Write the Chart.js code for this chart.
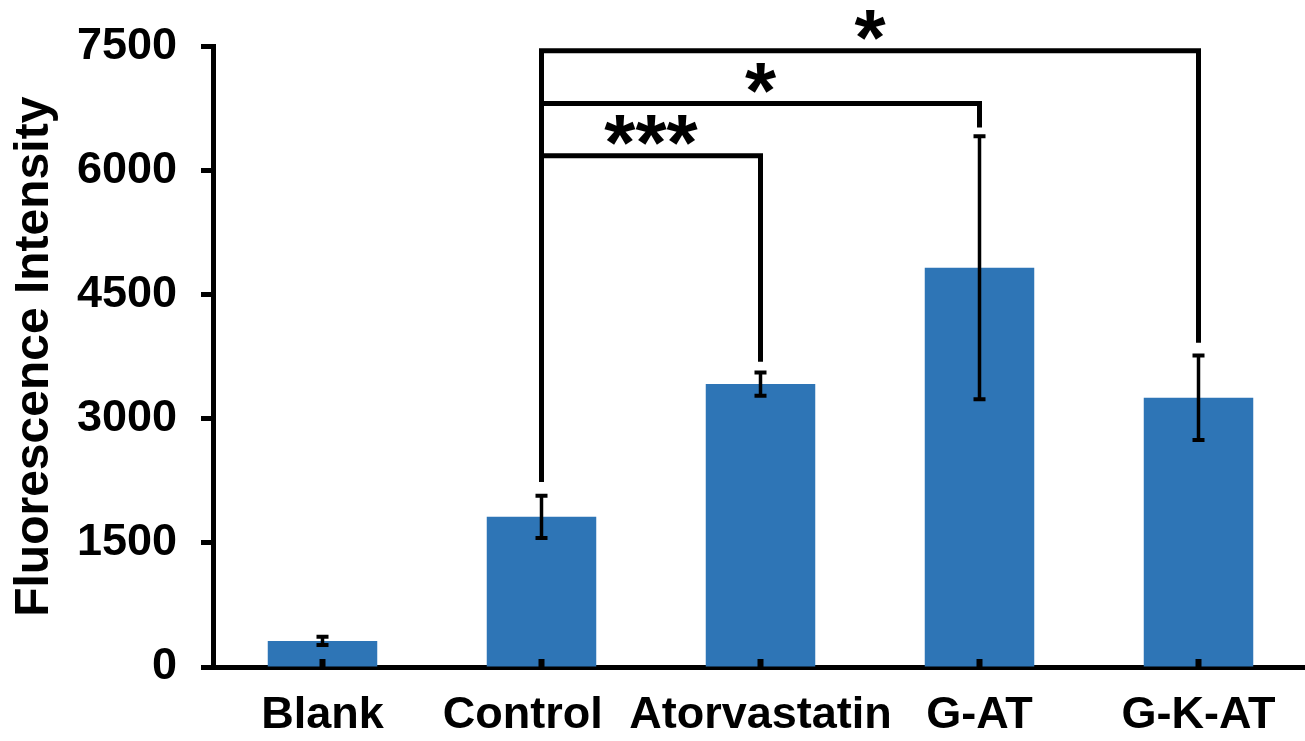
<!DOCTYPE html>
<html>
<head>
<meta charset="utf-8">
<script src="https://cdn.jsdelivr.net/npm/chart.js@4/dist/chart.umd.min.js"></script>
<style>
  body { margin: 0; background: #fff; overflow: hidden; }
  #wrap { width: 1310px; height: 741px; }
</style>
</head>
<body>
<div id="wrap"><canvas id="chart" width="1310" height="741"></canvas></div>
<script>
var categories = ['Blank', 'Control', 'Atorvastatin', 'G-AT', 'G-K-AT'];
var means = [315, 1815, 3420, 4825, 3255];
var errors = [50, 255, 140, 1590, 510];
var yTicks = [0, 1500, 3000, 4500, 6000, 7500];

// significance brackets, all starting from Control
var bracketFrom = 1;
var bracketStart = 2240;
var bracketTo = [2, 3, 4];
var bracketLevel = [6180, 6810, 7450];
var bracketEnd = [3690, 6520, 3920];
var bracketStars = ['***', '*', '*'];

var fontFamily = '"Liberation Sans", Arial, sans-serif';

////Error bars, brackets, stars/////
var extras = {
  id: 'extras',
  afterDraw: function(chart) {
    var ctx = chart.ctx;
    var x = chart.scales.x;
    var y = chart.scales.y;
    ctx.save();
    ctx.strokeStyle = '#000';
    ctx.fillStyle = '#000';

    means.forEach(function(m, i) {
      var cx = x.getPixelForValue(i);
      var top = y.getPixelForValue(m + errors[i]);
      var bot = y.getPixelForValue(m - errors[i]);
      ctx.lineWidth = 3.5;
      ctx.beginPath();
      ctx.moveTo(cx, top);
      ctx.lineTo(cx, bot);
      ctx.stroke();
      ctx.lineWidth = 4;
      ctx.beginPath();
      ctx.moveTo(cx - 6, top); ctx.lineTo(cx + 6, top);
      ctx.moveTo(cx - 6, bot); ctx.lineTo(cx + 6, bot);
      ctx.stroke();
      // little inside tick on the x axis
      ctx.fillRect(cx - 3, y.getPixelForValue(0) - 8, 6, 8);
    });

    var x0 = x.getPixelForValue(bracketFrom);
    ctx.lineWidth = 5;
    ctx.lineJoin = 'miter';
    ctx.font = 'bold 80px ' + fontFamily;
    ctx.textAlign = 'center';
    ctx.textBaseline = 'alphabetic';
    bracketTo.forEach(function(t, i) {
      var x1 = x.getPixelForValue(t);
      var ly = y.getPixelForValue(bracketLevel[i]);
      ctx.beginPath();
      ctx.moveTo(x0, y.getPixelForValue(bracketStart));
      ctx.lineTo(x0, ly);
      ctx.lineTo(x1, ly);
      ctx.lineTo(x1, y.getPixelForValue(bracketEnd[i]));
      ctx.stroke();
      ctx.fillText(bracketStars[i], (x0 + x1) / 2, ly + 14);
    });
    ctx.restore();
  }
};

var ctx = document.getElementById('chart');

var chart = new Chart(ctx, {
  type: 'bar',
  data: {
    labels: categories,
    datasets: [{
      data: means,
      backgroundColor: '#2E75B6',
      borderWidth: 0,
      categoryPercentage: 1,
      barPercentage: 0.5
    }]
  },
  options: {
    responsive: false,
    animation: false,
    devicePixelRatio: 1,
    layout: { padding: { top: 14, right: 2, left: 0, bottom: 0 } },
    plugins: {
      legend: { display: false },
      tooltip: { enabled: false }
    },
    scales: {
      x: {
        z: 1,
        grid: { display: false, drawTicks: false },
        border: { display: true, color: '#000', width: 5 },
        ticks: {
          color: '#000',
          padding: 22,
          maxRotation: 0,
          autoSkip: false,
          font: { family: fontFamily, size: 45, weight: 'bold' },
          callback: function(v, i) {
            // Control label sits a bit left in the original
            return i === 1 ? categories[i] + '   ' : categories[i];
          }
        },
        afterFit: function(s) { s.height = 74; }
      },
      y: {
        z: 1,
        min: 0,
        max: 7500,
        afterBuildTicks: function(s) {
          s.ticks = yTicks.map(function(v) { return { value: v }; });
        },
        grid: { drawOnChartArea: false, drawTicks: true, tickLength: 12, tickWidth: 5, tickColor: '#000' },
        border: { display: true, color: '#000', width: 5 },
        ticks: {
          color: '#000',
          padding: 24,
          font: { family: fontFamily, size: 45, weight: 'bold', lineHeight: 1 },
          callback: function(v) { return String(v); }
        },
        title: {
          display: true,
          text: 'Fluorescence Intensity',
          color: '#000',
          font: { family: fontFamily, size: 48, weight: 'bold' },
          padding: { top: 6, bottom: 0 }
        },
        afterFit: function(s) { s.width = 213; }
      }
    }
  },
  plugins: [extras]
});
</script>
</body>
</html>
